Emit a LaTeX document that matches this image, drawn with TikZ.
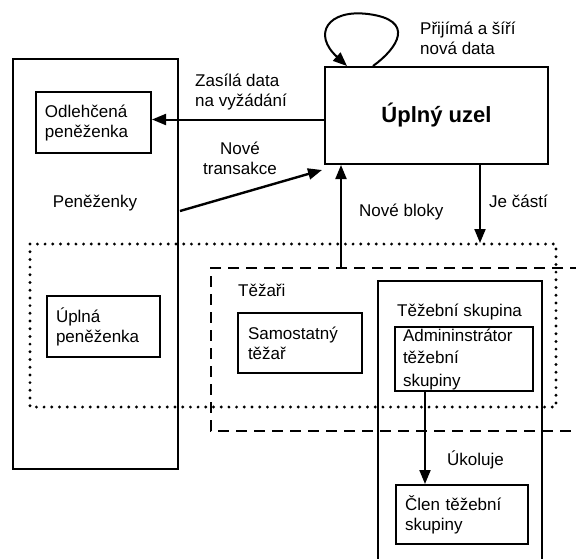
\documentclass[tikz,border=0pt]{standalone}
\usepackage{fontspec}
\setmainfont{Liberation Sans}
\usetikzlibrary{arrows.meta}

\begin{document}
\begin{tikzpicture}[x=1pt,y=-1pt,
  font=\fontsize{17}{20}\selectfont,
  box/.style={draw, line width=2pt, inner xsep=9pt, inner ysep=0pt,
              align=left, anchor=north west},
  frame/.style={line width=2pt},
  lbl/.style={inner sep=0pt, anchor=west, align=left},
  arr/.style={line width=2pt, -{Triangle[length=14pt,width=11pt]}},
  dotline/.style={line width=3.2pt, line cap=round, dash pattern=on 0pt off 7.7pt},
  dashline/.style={line width=2.2pt, dash pattern=on 11pt off 7pt}]
\useasboundingbox (0,0) rectangle (576,558);

% wallets
\node[box, minimum width=165pt, minimum height=410pt] (wallets) at (12,58) {};
\node[box, text width=97pt, minimum width=115pt, minimum height=61pt] (light) at (35,91) {Odlehčená\\peněženka};
\node[box, text width=95pt, minimum width=113pt, minimum height=61pt] (fullw) at (46,295) {Úplná\\peněženka};
\node[inner sep=0pt] (wlabel) at (95,203) {Peněženky};

% full node
\node[box, align=center, minimum width=223pt, minimum height=97pt,
      font=\fontsize{22}{26}\selectfont\bfseries] (full) at (324,66) {Úplný uzel};

% self loop of the full node
\coordinate (loopa) at (373,66);
\coordinate (loopb) at (347,66);
\draw[arr] (loopa) .. controls (398,48) and (416,20) .. (368,14)
                   .. controls (328,9) and (312,34) .. (loopb);
\node[lbl] (loopl) at (420,38) {Přijímá a šíří\\nová data};

% miners and pool containers
\draw[dotline] (30,244) rectangle (556,407);
\draw[dashline] (581,268) -- (211,268) -- (211,431) -- (581,431);
\draw[frame] (378,562) -- (378,281) -- (542,281) -- (542,562);
\node[lbl] (miners) at (238,290) {Těžaři};
\node[lbl] (pool) at (397,312) {Těžební skupina};

\node[box, inner xsep=10pt, text width=104pt, minimum width=124pt, minimum height=60pt] (solo) at (237,312) {Samostatný\\těžař};
\node[box, inner xsep=8pt, text width=122pt, minimum width=138pt, minimum height=64pt,
      font=\fontsize{17}{22.5}\selectfont] (admin) at (394,326) {Admininstrátor\\těžební\\skupiny};
\node[box, text width=114pt, minimum width=132pt, minimum height=59pt] (member) at (395,484) {Člen těžební\\skupiny};

% connectors
\draw[arr] ([yshift=-4pt]full.west) -- ([yshift=-4pt]full.west -| light.east);
\node[lbl] (reqdata) at (195,92) {Zasílá data\\na vyžádání};

\coordinate (nt0) at (180,211);
\coordinate (nt1) at (322,170);
\draw[arr, line width=2.4pt] (nt0) -- (nt1);
\node[inner sep=0pt, align=center] (ntx) at (240,158) {Nové\\transakce};

\coordinate (nb) at (341,268);
\draw[arr] (nb) -- (nb |- full.south);
\node[lbl] (nbl) at (359,212) {Nové bloky};

\coordinate (jc) at (480,243);
\draw[arr] (jc |- full.south) -- (jc);
\node[lbl] (jcl) at (489,201) {Je částí};

\coordinate (tk) at (425,0);
\draw[arr] (tk |- admin.south) -- (tk |- member.north);
\node[lbl] (tkl) at (447,460) {Úkoluje};
\end{tikzpicture}
\end{document}
